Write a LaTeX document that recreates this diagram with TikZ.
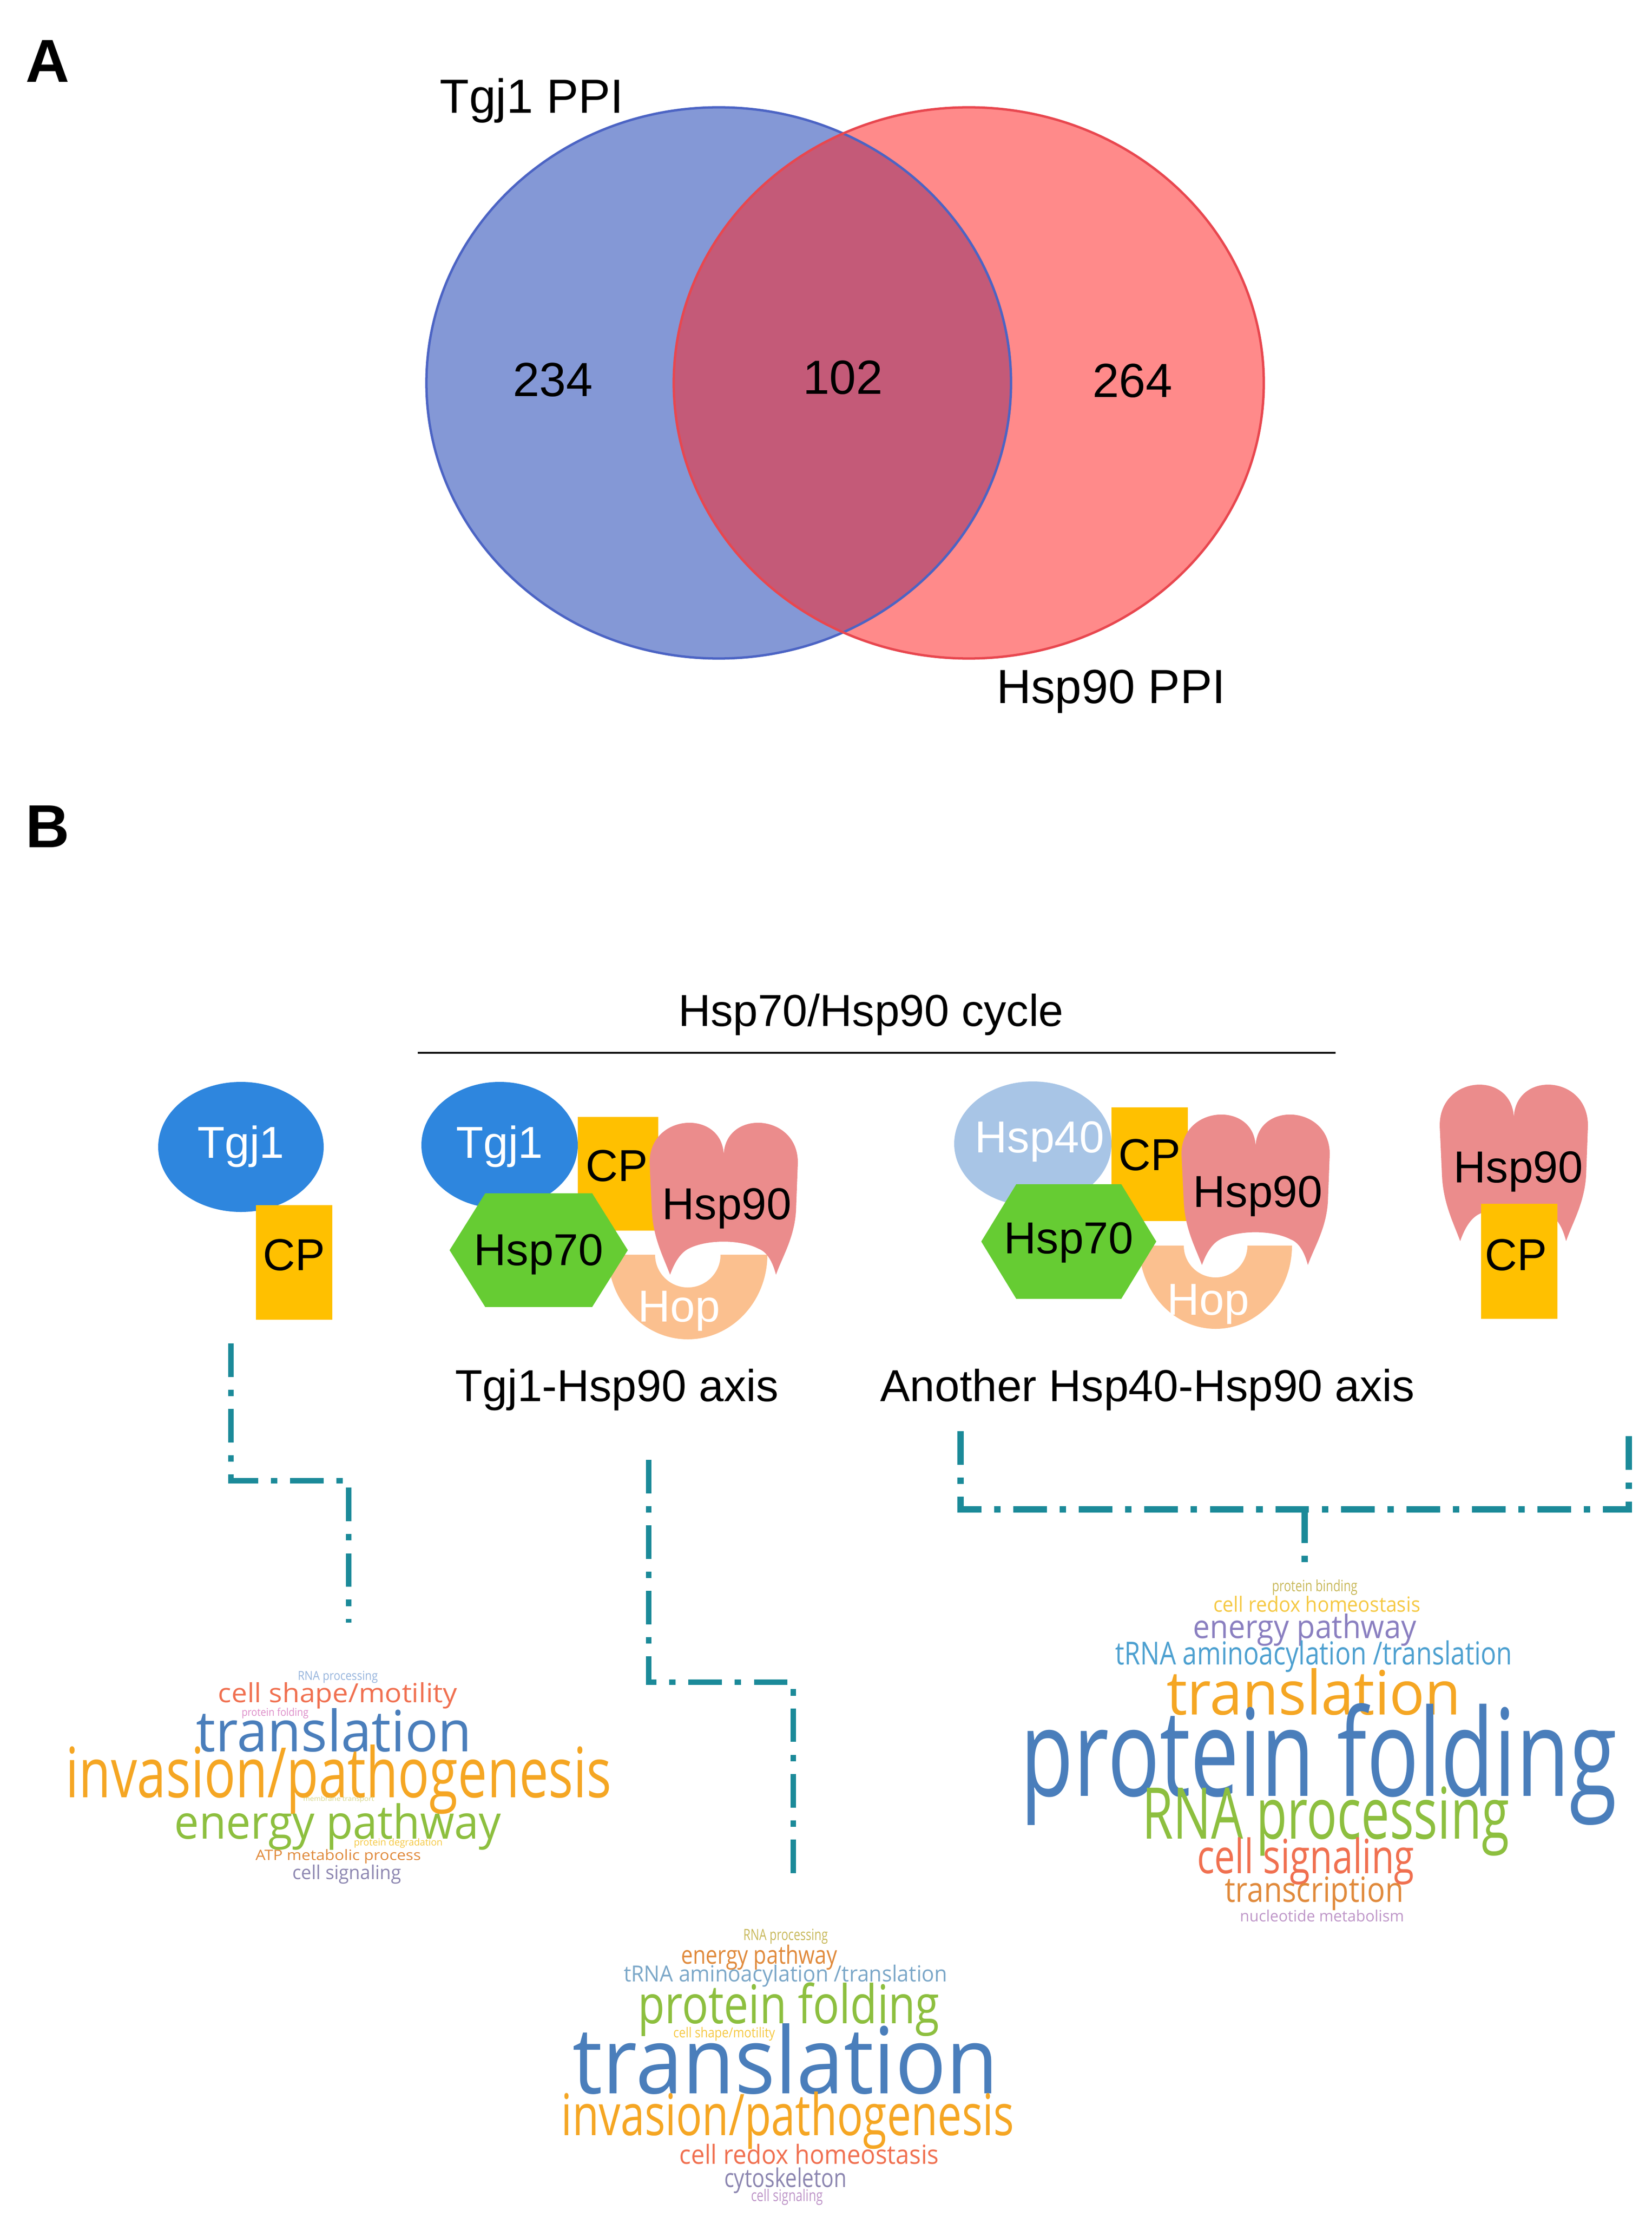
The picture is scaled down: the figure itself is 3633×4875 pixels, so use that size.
\documentclass[tikz,border=0pt]{standalone}
\usepackage{fontspec}
\setmainfont{Liberation Sans}
\newfontfamily\wcf{Open Sans}
\usepackage{graphicx}
\newlength\pxl \setlength\pxl{0.1mm}
\definecolor{vblue}{RGB}{132,152,214}
\definecolor{vblueE}{RGB}{76,100,196}
\definecolor{vred}{RGB}{255,138,138}
\definecolor{vredE}{RGB}{232,71,79}
\definecolor{vmix}{RGB}{196,90,120}
\definecolor{tgj}{RGB}{46,134,222}
\definecolor{cpc}{RGB}{255,192,0}
\definecolor{hspf}{RGB}{168,197,230}
\definecolor{hsps}{RGB}{102,204,51}
\definecolor{hspn}{RGB}{235,140,140}
\definecolor{hopc}{RGB}{251,192,143}
\definecolor{teal}{RGB}{27,138,153}
\definecolor{wblue}{RGB}{74,126,187}
\definecolor{worange}{RGB}{245,166,35}
\definecolor{wgreen}{RGB}{141,191,63}
\definecolor{wred}{RGB}{240,112,80}
\definecolor{wdorange}{RGB}{224,138,60}
\definecolor{wpurple}{RGB}{138,127,192}
\definecolor{wgrey}{RGB}{140,134,176}
\definecolor{wsky}{RGB}{77,160,208}
\definecolor{wsteel}{RGB}{123,167,200}
\definecolor{wlblue}{RGB}{150,180,220}
\definecolor{wpink}{RGB}{220,140,200}
\definecolor{wpale}{RGB}{215,215,140}
\definecolor{wyellow}{RGB}{245,200,66}
\definecolor{wolive}{RGB}{200,184,90}
\definecolor{wlpurple}{RGB}{190,150,200}
\newcommand\wc[7]{\node[inner sep=0,outer sep=0] (#1) at (#2,#3) {\color{#6}\resizebox{#4\pxl}{#5\pxl}{\wcf #7}};}
\newcommand\hspshape[4]{% name, x, y, yscale
\begin{scope}[shift={(#2,#3)},yscale=#4]
\fill[hspn] (45,340) .. controls (30,300) and (8,260) .. (5,200) -- (0,95)
 .. controls (-2,-15) and (158,-25) .. (163,75)
 .. controls (168,-25) and (328,-15) .. (326,95) -- (322,200)
 .. controls (318,260) and (292,300) .. (278,340)
 .. controls (270,310) and (258,290) .. (240,283)
 .. controls (200,262) and (125,262) .. (85,283)
 .. controls (68,292) and (55,312) .. (45,340) -- cycle;
\end{scope}}
\newcommand\hexa[5]{% name cx cy w h
\fill[hsps] (#2,#3) ++(-#4/2,0) -- ++(#4*0.2,-#5/2) -- ++(#4*0.6,0) -- ++(#4*0.2,#5/2) -- ++(-#4*0.2,#5/2) -- ++(-#4*0.6,0) -- cycle;}
\newcommand\hop[5]{% cx top ro ry ri
\fill[hopc] (#1-#3,#2) arc[start angle=180,end angle=0,x radius=#3,y radius=#4] -- (#1+#5,#2) arc[start angle=0,end angle=180,radius=#5] -- cycle;}
\tikzset{
  lab/.style={inner sep=0,anchor=base,font=\fontsize{28pt}{30pt}\selectfont},
  vlab/.style={inner sep=0,anchor=base,font=\fontsize{30pt}{32pt}\selectfont},
  big/.style={inner sep=0,anchor=base west,font=\fontsize{38pt}{40pt}\selectfont\bfseries},
  conn/.style={teal,line width=3.4pt,dash pattern=on 21pt off 8pt on 4pt off 8pt},
}
\begin{document}
\begin{tikzpicture}[x=0.1mm,y=-0.1mm]
\useasboundingbox (0,0) rectangle (3633,4875);
% Venn
\fill[vblue] (1581,842) ellipse[x radius=643,y radius=606];
\fill[vred] (2131,842) ellipse[x radius=649,y radius=606];
\begin{scope}
\clip (1581,842) ellipse[x radius=643,y radius=606];
\fill[vmix] (2131,842) ellipse[x radius=649,y radius=606];
\end{scope}
\draw[vblueE,line width=1.5pt] (1581,842) ellipse[x radius=643,y radius=606];
\draw[vredE,line width=1.5pt] (2131,842) ellipse[x radius=649,y radius=606];
\node[big] (A) at (56,181) {A};
\node[vlab] (t1) at (1170,249) {Tgj1 PPI};
\node[vlab] (n1) at (1216,872) {234};
\node[vlab] (n2) at (1854,867) {102};
\node[vlab] (n3) at (2491,874) {264};
\node[vlab] (t2) at (2444,1546) {Hsp90 PPI};
\node[big] (B) at (56,1863) {B};
% cycle header
\node[lab] (cyc) at (1916,2256) {Hsp70/Hsp90 cycle};
\draw[line width=1.3pt] (919,2315) coordinate (c1) -- (2938,2315) coordinate (c2);
% left
\fill[tgj] (530,2522) ellipse[x radius=182,y radius=143];
\node[lab,white] (tg1) at (530,2546) {Tgj1};
\fill[cpc] (563,2650) rectangle (731,2902);
\node[lab] (cp1) at (647,2793) {CP};
% middle complex
\fill[tgj] (1099,2518) ellipse[x radius=172,y radius=139];
\node[lab,white] (tg2) at (1099,2546) {Tgj1};
\fill[cpc] (1271,2456) rectangle (1448,2706);
\node[lab] (cp2) at (1357,2597) {CP};
\hop{1513}{2759}{175}{186}{72}
\node[lab,white] (hop1) at (1494,2906) {Hop};
\hspshape{h1}{1429}{2463}{1}
\node[lab] (h90a) at (1599,2681) {Hsp90};
\hexa{x1}{1185}{2749}{392}{250}
\node[lab] (h70a) at (1185,2782) {Hsp70};
\node[lab] (ax1) at (1357,3081) {Tgj1-Hsp90 axis};
% right complex
\fill[hspf] (2272,2515) ellipse[x radius=173,y radius=137];
\node[lab,white] (h40) at (2287,2534) {Hsp40};
\fill[cpc] (2445,2435) rectangle (2613,2685);
\node[lab] (cp3) at (2529,2573) {CP};
\hop{2674}{2739}{168}{183}{70}
\node[lab,white] (hop2) at (2658,2891) {Hop};
\hspshape{h2}{2599}{2445}{0.99}
\node[lab] (h90b) at (2767,2654) {Hsp90};
\hexa{x2}{2351}{2730}{385}{252}
\node[lab] (h70b) at (2351,2756) {Hsp70};
\node[lab] (ax2) at (2524,3081) {Another Hsp40-Hsp90 axis};
% far right
\hspshape{h3}{3167}{2379}{1.03}
\node[lab] (h90c) at (3340,2600) {Hsp90};
\fill[cpc] (3258,2647) rectangle (3426,2900);
\node[lab] (cp4) at (3335,2793) {CP};
% connectors
\coordinate (l1) at (508,2954); \coordinate (l2) at (508,3256);
\coordinate (l3) at (767,3256); \coordinate (l4) at (767,3568);
\draw[conn] (l1) -- (l2) -- (l3) -- (l4);
\coordinate (m1) at (1427,3210); \coordinate (m2) at (1427,3699);
\coordinate (m3) at (1745,3699); \coordinate (m4) at (1745,4144);
\draw[conn] (m1) -- (m2) -- (m3) -- (m4);
\coordinate (r1) at (2113,3147); \coordinate (r2) at (2113,3319);
\coordinate (r3) at (3583,3319); \coordinate (r4) at (3583,3147);
\coordinate (r5) at (2870,3319); \coordinate (r6) at (2870,3443);
\draw[conn,line width=4.2pt] (r1) -- (r2) -- (r3) -- (r4);
\draw[conn,line width=4.2pt] (r5) -- (r6);
% left cloud
\wc{a1}{743}{3688}{176}{20}{wlblue}{RNA processing}
\wc{a2}{743}{3728}{526}{44}{wred}{cell shape/motility}
\wc{a3}{605}{3767}{147}{18}{wpink}{protein folding}
\wc{a4}{735}{3805}{606}{95}{wblue}{translation}
\wc{a5}{745}{3913}{1200}{116}{worange}{invasion/pathogenesis}
\wc{a6}{745}{3957}{156}{11}{wpale}{membrane transport}
\wc{a7}{743}{4017}{718}{78}{wgreen}{energy pathway}
\wc{a8}{876}{4053}{195}{16}{wyellow}{protein degradation}
\wc{a9}{744}{4082}{364}{24}{wdorange}{ATP metabolic process}
\wc{a10}{763}{4122}{240}{32}{wgrey}{cell signaling}
% bottom cloud
\wc{b1}{1728}{4258}{186}{25}{wolive}{RNA processing}
\wc{b2}{1670}{4304}{344}{42}{wdorange}{energy pathway}
\wc{b3}{1728}{4345}{712}{37}{wsteel}{tRNA aminoacylation /translation}
\wc{b4}{1735}{4419}{663}{90}{wgreen}{protein folding}
\wc{b5}{1593}{4473}{224}{23}{wyellow}{cell shape/motility}
\wc{b6}{1728}{4527}{936}{154}{wblue}{translation}
\wc{b7}{1733}{4663}{996}{96}{worange}{invasion/pathogenesis}
\wc{b8}{1780}{4737}{571}{44}{wred}{cell redox homeostasis}
\wc{b9}{1728}{4795}{270}{43}{wgrey}{cytoskeleton}
\wc{b10}{1731}{4831}{158}{27}{wlpurple}{cell signaling}
% right cloud
\wc{c1w}{2892}{3491}{188}{26}{wolive}{protein binding}
\wc{c2w}{2897}{3527}{455}{35}{wyellow}{cell redox homeostasis}
\wc{c3w}{2870}{3584}{491}{54}{wpurple}{energy pathway}
\wc{c4w}{2890}{3642}{873}{53}{wsky}{tRNA aminoacylation /translation}
\wc{c5w}{2890}{3720}{647}{102}{worange}{translation}
\wc{c6w}{2901}{3879}{1312}{204}{wblue}{protein folding}
\wc{c7w}{2916}{4005}{808}{115}{wgreen}{RNA processing}
\wc{c8w}{2872}{4092}{478}{79}{wred}{cell signaling}
\wc{c9w}{2891}{4164}{393}{56}{wdorange}{transcription}
\wc{c10w}{2908}{4213}{361}{26}{wlpurple}{nucleotide metabolism}
\end{tikzpicture}
\end{document}
